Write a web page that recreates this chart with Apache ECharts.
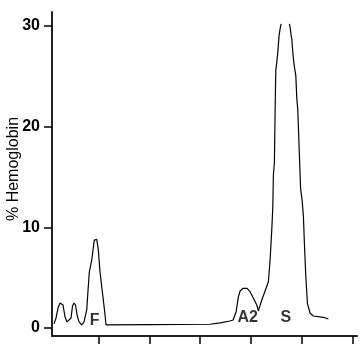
<!DOCTYPE html>
<html><head><meta charset="utf-8">
<script src="https://cdn.jsdelivr.net/npm/echarts@6/dist/echarts.min.js"></script>
<style>html,body{margin:0;padding:0;background:#fff}#c{width:360px;height:360px}</style>
</head><body><div id="c"></div>
<script>
// retention position (arbitrary units) and % hemoglobin
const xs = [0.130,0.169,0.208,0.248,0.281,0.306,0.346,0.385,0.424,0.464,0.493,0.523,0.552,0.582,0.621,0.674,0.719,0.772,0.798,0.823,0.870,0.921,0.969,1.000,1.033,1.063,1.098,1.132,1.151,2.016,3.194,3.391,3.587,3.646,3.705,3.751,3.784,3.843,3.921,3.980,4.045,4.112,4.143,4.210,4.275,4.340,4.373,4.406,4.426,4.438,4.458,4.472,4.485,4.505,4.525,4.550,4.570,4.589,4.670,4.752,4.766,4.786,4.800,4.811,4.831,4.851,4.878,4.898,4.917,4.953,4.972,5.002,5.028,5.047,5.075,5.106,5.159,5.224,5.420,5.519];
const ys = [0.40,0.99,1.98,2.48,2.61,2.28,1.09,0.60,0.50,0.99,2.18,2.48,2.28,1.29,0.60,0.30,0.60,1.79,3.77,5.56,6.75,8.73,8.80,7.74,5.56,4.27,2.78,1.29,0.30,0.33,0.37,0.50,0.69,0.79,1.59,3.08,3.67,3.94,3.94,3.60,2.95,2.28,1.69,2.78,3.67,4.59,6.75,9.72,12.00,15.18,16.47,21.63,25.60,26.42,27.41,29.07,29.73,30.23,null,30.23,29.89,29.07,28.74,27.91,26.76,25.92,25.10,22.79,21.70,21.63,13.86,12.70,11.04,8.40,5.09,2.45,1.46,1.19,1.06,0.89];
const yTicks = [0,10,20,30];
const xTicks = [1,2,3,4,5,6];
const peakNames = ['F','A2','S'];
const peakX = [0.925,3.934,4.684];
const peakY = [0.74,1.04,1.04];

const data = xs.map((x,i)=>[x, ys[i]]);
const chart = echarts.init(document.getElementById('c'), null, {renderer:'canvas'});
const lineCol = '#222';
chart.setOption({
  animation:false,
  grid:{left:52,top:12,right:3,bottom:24,containLabel:false,outerBoundsMode:'none'},
  xAxis:{type:'value',min:0.09,max:6.08,
    axisLine:{show:true,onZero:false,lineStyle:{color:lineCol,width:2}},
    axisTick:{show:true,length:8,customValues:xTicks,lineStyle:{color:'#000',width:1.5}},
    axisLabel:{show:false},splitLine:{show:false}},
  yAxis:{type:'value',min:-0.8,max:31.4,
    name:'% Hemoglobin',nameLocation:'middle',nameGap:30,nameRotate:90,nameMoveOverlap:false,
    nameTextStyle:{fontFamily:'Liberation Sans',fontSize:16,color:'#000',padding:[0,0,0,10]},
    axisLine:{show:true,onZero:false,lineStyle:{color:lineCol,width:2}},
    axisTick:{show:true,length:8,customValues:yTicks,lineStyle:{color:'#000',width:1.5}},
    axisLabel:{customValues:yTicks,margin:12,fontFamily:'Liberation Sans',fontWeight:'bold',fontSize:16,color:'#000'},
    splitLine:{show:false}},
  series:[{type:'line',data:data,showSymbol:false,connectNulls:false,
    lineStyle:{color:'#000',width:1.2}},
    {type:'scatter',symbolSize:1,itemStyle:{color:'rgba(0,0,0,0)'},
     data:peakNames.map((n,i)=>({name:n,value:[peakX[i],peakY[i]]})),
     label:{show:true,position:'inside',formatter:p=>p.name,fontFamily:'Liberation Sans',fontWeight:'bold',fontSize:16,color:'#000'}}
  ]
});
</script></body></html>
